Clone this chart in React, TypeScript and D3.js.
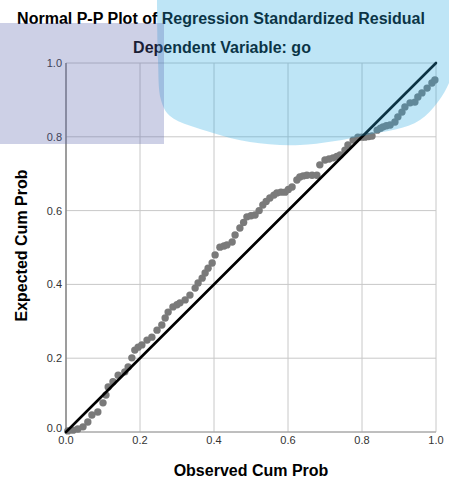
import React from 'react'
import { scaleLinear, line, curveCatmullRom } from 'd3'

const observed = [
  0.005, 0.019, 0.032, 0.046, 0.059, 0.070, 0.086, 0.100, 0.108, 0.114, 0.127, 0.141, 0.159, 0.168,
  0.178, 0.186, 0.195, 0.205, 0.219, 0.232, 0.246, 0.259, 0.268, 0.276, 0.289, 0.300, 0.308, 0.322,
  0.335, 0.349, 0.357, 0.368, 0.376, 0.384, 0.395, 0.403, 0.416, 0.427, 0.435, 0.449, 0.457, 0.470,
  0.480, 0.489, 0.500, 0.511, 0.522, 0.532, 0.541, 0.551, 0.562, 0.570, 0.581, 0.592, 0.601, 0.611,
  0.624, 0.632, 0.641, 0.651, 0.665, 0.678, 0.686, 0.700, 0.711, 0.722, 0.732, 0.741, 0.754, 0.762,
  0.776, 0.789, 0.799, 0.808, 0.818, 0.827, 0.841, 0.850, 0.857, 0.866, 0.876, 0.889, 0.897, 0.908,
  0.916, 0.930, 0.943, 0.951, 0.962, 0.976, 0.989, 0.997,
]
const expected = [
  0.003, 0.005, 0.008, 0.014, 0.027, 0.046, 0.054, 0.079, 0.100, 0.122, 0.136, 0.154, 0.163, 0.176,
  0.201, 0.222, 0.230, 0.236, 0.249, 0.257, 0.276, 0.290, 0.309, 0.325, 0.339, 0.345, 0.350, 0.358,
  0.371, 0.390, 0.404, 0.417, 0.431, 0.444, 0.458, 0.480, 0.501, 0.504, 0.507, 0.515, 0.534, 0.553,
  0.568, 0.583, 0.586, 0.588, 0.600, 0.615, 0.625, 0.634, 0.642, 0.648, 0.650, 0.650, 0.657, 0.664,
  0.683, 0.691, 0.694, 0.696, 0.696, 0.696, 0.724, 0.737, 0.740, 0.743, 0.747, 0.751, 0.764, 0.778,
  0.791, 0.799, 0.799, 0.799, 0.801, 0.802, 0.818, 0.823, 0.827, 0.830, 0.832, 0.840, 0.854, 0.867,
  0.881, 0.892, 0.894, 0.908, 0.919, 0.932, 0.946, 0.954,
]
const ticks = [0, 0.2, 0.4, 0.6, 0.8, 1.0]

const width = 449
const height = 481
const margin = { left: 66, top: 63, right: 13, bottom: 49 }
const innerWidth = width - margin.left - margin.right
const innerHeight = height - margin.top - margin.bottom

const font = '"Liberation Sans", Arial, sans-serif'

export default function App() {
  const x = scaleLinear().domain([0, 1]).range([margin.left, margin.left + innerWidth])
  const y = scaleLinear().domain([0, 1]).range([margin.top + innerHeight, margin.top])

  // watermark blob in the background of the screenshot
  const blob = line().curve(curveCatmullRom)([
    [157, -2], [158, 60], [161, 100], [170, 116], [213, 133], [250, 142],
    [300, 145], [367, 135], [420, 120], [449, 83], [452, 60],
  ]) + 'L452,-2Z'

  return (
    <svg width={width} height={height} style={{ position: 'absolute', left: 0, top: 0, background: '#fff' }}>
      {ticks.map(t => (
        <g key={'g' + t}>
          <line x1={x(t)} x2={x(t)} y1={y(0)} y2={y(1)} stroke="#c8c8c8" strokeWidth={1} />
          <line x1={x(0)} x2={x(1)} y1={y(t)} y2={y(t)} stroke="#c8c8c8" strokeWidth={1} />
        </g>
      ))}
      <line x1={x(0)} x2={x(0)} y1={y(0)} y2={y(1)} stroke="#6e6e6e" strokeWidth={1.2} />
      <line x1={x(0)} x2={x(1)} y1={y(0)} y2={y(0)} stroke="#9a9a9a" strokeWidth={1.2} />

      {ticks.map(t => (
        <text key={'x' + t} x={x(t)} y={y(0) + 12} textAnchor="middle" fontFamily={font} fontSize={11} fill="#333">
          {t.toFixed(1)}
        </text>
      ))}
      {ticks.map(t => (
        <text key={'y' + t} x={x(0) - 4} y={y(t) + (t === 0 ? 0 : 4)} textAnchor="end" fontFamily={font} fontSize={11} fill="#333">
          {t.toFixed(1)}
        </text>
      ))}

      {observed.map((d, i) => (
        <circle key={i} cx={x(d)} cy={y(expected[i])} r={3.7} fill="#7a7a7a" />
      ))}

      <line x1={x(0)} y1={y(0)} x2={x(1)} y2={y(1)} stroke="#000" strokeWidth={2.6} strokeLinecap="round" />

      <text x={221} y={24} textAnchor="middle" fontFamily={font} fontSize={16} fontWeight="bold" fill="#000">
        Normal P-P Plot of Regression Standardized Residual
      </text>
      <text x={222} y={53} textAnchor="middle" fontFamily={font} fontSize={16} fontWeight="bold" fill="#000">
        Dependent Variable: go
      </text>
      <text x={251} y={476} textAnchor="middle" fontFamily={font} fontSize={16} fontWeight="bold" fill="#000">
        Observed Cum Prob
      </text>
      <text transform={`translate(27,${y(0.5) - 2}) rotate(-90)`} textAnchor="middle" fontFamily={font} fontSize={16} fontWeight="bold" fill="#000">
        Expected Cum Prob
      </text>

      <path d={blob} fill="rgb(40,170,225)" opacity={0.3} />
      <rect x={0} y={23} width={164} height={121} fill="rgb(88,98,172)" opacity={0.3} />
    </svg>
  )
}
